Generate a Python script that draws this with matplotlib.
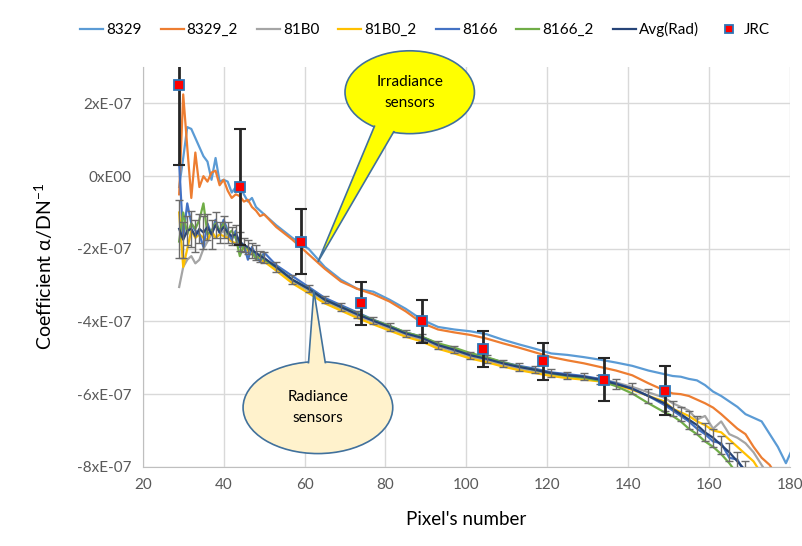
import numpy as np
import matplotlib
matplotlib.use("Agg")
import matplotlib.pyplot as plt
from matplotlib.patches import Ellipse, Polygon
from matplotlib.lines import Line2D
from matplotlib.ticker import FuncFormatter

plt.rcParams['font.family'] = ['Lato', 'DejaVu Sans']
plt.rcParams['mathtext.fontset'] = 'custom'
plt.rcParams['mathtext.rm'] = 'Lato'
plt.rcParams['mathtext.it'] = 'Lato:italic'

nan = np.nan

# pixel numbers (dense at the noisy start, coarser where the curves are smooth)
pixels = list(range(29, 51)) + list(range(53, 150, 4)) + list(range(151, 182, 2))

# coefficients in units of 1E-07
s8329 = [-0.3, 0.5, 1.35, 1.3, 1.05, 0.8, 0.55, 0.4, -0.1, 0.5, -0.15, -0.1, -0.15, -0.45, -0.3,
         -0.25, -0.5, -0.7, -0.6, -0.85, -0.95, -1.05,
         -1.35, -1.7, -2.0, -2.5, -2.85, -3.1, -3.18, -3.4, -3.65, -3.95, -4.15, -4.22, -4.27,
         -4.35, -4.5, -4.63, -4.75, -4.88, -4.92, -4.98, -5.05, -5.13, -5.22, -5.35, -5.45,
         -5.5, -5.52, -5.58, -5.62, -5.75, -5.93, -6.05, -6.2, -6.35, -6.55, -6.65, -6.75,
         -7.1, -7.45, -7.9, -7.4]
s8329_2 = [-0.5, 2.25, 0.8, -0.6, 0.65, -0.3, 0.0, -0.15, 0.1, 0.15, -0.25, -0.1, -0.4, -0.6, -0.5,
           -0.55, -0.7, -0.65, -0.85, -0.95, -1.1, -1.05,
           -1.4, -1.75, -2.15, -2.55, -2.9, -3.1, -3.25, -3.45, -3.72, -4.04, -4.22, -4.3, -4.37,
           -4.47, -4.6, -4.72, -4.85, -4.98, -5.07, -5.15, -5.25, -5.35, -5.48, -5.7, -5.9,
           -5.98, -6.0, -6.05, -6.15, -6.25, -6.37, -6.55, -6.75, -6.95, -7.1, -7.45, -7.75,
           -7.95, -8.3, nan, nan]
s81b0 = [-3.05, -2.5, -2.3, -2.2, -2.4, -2.3, -2.0, -1.8, -1.6, -1.7, -1.6, -1.5, -1.7, -1.65, -1.7,
         -1.85, -1.95, -2.0, -2.1, -2.15, -2.25, -2.3,
         -2.55, -2.9, -3.15, -3.45, -3.65, -3.85, -4.02, -4.2, -4.38, -4.5, -4.7, -4.83, -4.98,
         -5.08, -5.2, -5.3, -5.38, -5.46, -5.5, -5.53, -5.58, -5.68, -5.8, -5.95, -6.1,
         -6.25, -6.35, -6.45, -6.7, -6.6, -6.95, -6.75, -7.1, -7.2, -7.35, -7.6, -7.95,
         -8.3, nan, nan, nan]
s81b0_2 = [-1.0, -2.5, -2.0, -1.5, -1.7, -1.6, -1.7, -1.75, -1.5, -1.7, -1.6, -1.65, -1.7, -1.8, -1.85,
           -1.9, -2.0, -2.05, -2.15, -2.2, -2.3, -2.35,
           -2.6, -2.95, -3.22, -3.5, -3.7, -3.9, -4.08, -4.25, -4.42, -4.55, -4.75, -4.88, -5.02,
           -5.12, -5.24, -5.34, -5.42, -5.5, -5.56, -5.6, -5.65, -5.75, -5.88, -6.05, -6.2,
           -6.4, -6.5, -6.6, -6.75, -6.85, -7.0, -7.05, -7.25, -7.45, -7.65, -7.85, -8.2,
           nan, nan, nan, nan]
s8166 = [0.35, -1.7, -0.75, -1.3, -1.5, -1.6, -1.95, -1.3, -1.6, -1.2, -1.55, -1.2, -1.5, -1.75, -1.5,
         -1.95, -1.9, -2.3, -1.95, -2.2, -2.35, -2.1,
         -2.45, -2.75, -3.05, -3.35, -3.55, -3.75, -3.95, -4.12, -4.3, -4.42, -4.62, -4.75, -4.9,
         -5.0, -5.12, -5.22, -5.3, -5.4, -5.45, -5.5, -5.58, -5.7, -5.85, -6.05, -6.3,
         -6.45, -6.6, -6.75, -6.95, -7.1, -7.3, -7.35, -7.75, -7.8, -8.2, nan, nan,
         nan, nan, nan, nan]
s8166_2 = [-1.8, -1.0, -1.6, -1.3, -1.45, -1.2, -0.75, -1.6, -1.5, -1.3, -1.5, -1.3, -1.6, -1.5, -1.7,
           -2.2, -1.9, -2.0, -2.05, -2.3, -2.15, -2.3,
           -2.5, -2.85, -3.1, -3.4, -3.6, -3.78, -3.96, -4.12, -4.3, -4.42, -4.6, -4.72, -4.87,
           -4.98, -5.12, -5.24, -5.33, -5.43, -5.5, -5.55, -5.63, -5.78, -5.98, -6.25, -6.5,
           -6.6, -6.75, -6.95, -7.1, -7.3, -7.45, -7.65, -7.9, -8.2, nan, nan, nan,
           nan, nan, nan, nan]
avg_rad = [-1.45, -1.75, -1.5, -1.45, -1.65, -1.45, -1.55, -1.4, -1.6, -1.35, -1.55, -1.4, -1.55, -1.65, -1.6,
           -1.8, -1.9, -1.95, -2.05, -2.1, -2.2, -2.25,
           -2.5, -2.85, -3.1, -3.4, -3.6, -3.8, -3.98, -4.15, -4.33, -4.45, -4.65, -4.78, -4.93,
           -5.03, -5.15, -5.25, -5.33, -5.42, -5.48, -5.52, -5.6, -5.72, -5.85, -6.05, -6.25,
           -6.4, -6.55, -6.7, -6.85, -7.05, -7.2, -7.4, -7.6, -7.85, -8.1, -8.4, nan,
           nan, nan, nan, nan]
avg_err = [0.8, 0.5, 0.4, 0.5, 0.45, 0.4, 0.45, 0.35, 0.4, 0.35, 0.3, 0.3, 0.3, 0.25, 0.25,
           0.25, 0.2, 0.2, 0.2, 0.2, 0.15, 0.15,
           0.15, 0.12, 0.1, 0.1, 0.1, 0.1, 0.1, 0.1, 0.1, 0.1, 0.1, 0.1, 0.1,
           0.1, 0.1, 0.1, 0.1, 0.1, 0.1, 0.1, 0.12, 0.15, 0.15, 0.2, 0.2,
           0.2, 0.2, 0.25, 0.25, 0.25, 0.25, 0.25, 0.25, 0.25, 0.25, 0.25, nan,
           nan, nan, nan, nan]

jrc_x = [29, 44, 59, 74, 89, 104, 119, 134, 149]
jrc_y = [2.5, -0.3, -1.8, -3.5, -4.0, -4.75, -5.1, -5.6, -5.9]
jrc_err = [2.2, 1.6, 0.9, 0.6, 0.6, 0.5, 0.5, 0.6, 0.68]

series = [("8329", s8329, "#5B9BD5"),
          ("8329_2", s8329_2, "#ED7D31"),
          ("81B0", s81b0, "#A5A5A5"),
          ("81B0_2", s81b0_2, "#FFC000"),
          ("8166", s8166, "#4472C4"),
          ("8166_2", s8166_2, "#70AD47"),
          ("Avg(Rad)", avg_rad, "#264478")]

fig = plt.figure(figsize=(8.02, 5.46), dpi=100)
ax = fig.add_axes([0.178, 0.145, 0.807, 0.732])

handles = []
for name, vals, col in series:
    ln, = ax.plot(pixels, vals, color=col, lw=1.6, label=name, zorder=3)
    handles.append(ln)

ax.errorbar(pixels, avg_rad, yerr=avg_err, fmt='none', ecolor='#6b6b6b', elinewidth=1,
            capsize=3, zorder=3.5)
ax.errorbar(jrc_x, jrc_y, yerr=jrc_err, fmt='none', ecolor='#262626', elinewidth=2,
            capsize=4, capthick=1.5, zorder=4)
ax.plot(jrc_x, jrc_y, ls='none', marker='s', ms=7, mfc='#FF0000', mec='#2E75B6', mew=1.3,
        zorder=5)
handles.append(Line2D([], [], ls='none', marker='s', ms=6, mfc='#FF0000', mec='#2E75B6',
                      mew=1.3, label='JRC'))

ax.set_xlim(20, 180)
ax.set_ylim(-8, 3)
ax.set_xticks(range(20, 181, 20))
ax.set_yticks(range(-8, 3, 2))
ax.yaxis.set_major_formatter(FuncFormatter(lambda v, p: "0xE00" if v == 0 else f"{v:.0f}xE-07"))
ax.grid(True, color='#D9D9D9', lw=1)
ax.set_axisbelow(True)
for s in ['top', 'right']:
    ax.spines[s].set_visible(False)
for s in ['left', 'bottom']:
    ax.spines[s].set_color('#BFBFBF')
ax.tick_params(length=0, labelsize=11, colors='#595959', pad=8)

ax.set_xlabel("Pixel's number", fontsize=13.5, labelpad=14)
ax.set_ylabel("Coefficient α/DN$^{-1}$", fontsize=14, labelpad=16)

# callouts
edge = '#41719C'
ax.add_patch(Ellipse((86, 2.31), 32, 2.28, fc='#FFFF00', ec=edge, lw=1.2, zorder=6,
                     clip_on=False))
ax.add_patch(Polygon([(78.5, 1.7), (83.5, 1.5), (63.3, -2.36)], closed=True, fc='#FFFF00',
                     ec=edge, lw=1.2, zorder=7, clip_on=False))
ax.add_patch(Ellipse((86, 2.31), 31.2, 2.2, fc='#FFFF00', ec='none', zorder=8, clip_on=False))
ax.text(86, 2.31, "Irradiance\nsensors", ha='center', va='center', fontsize=11,
        linespacing=1.6, zorder=9)

ax.add_patch(Ellipse((63.3, -6.37), 37, 2.53, fc='#FFF2CC', ec=edge, lw=1.2, zorder=6))
ax.add_patch(Polygon([(60.8, -5.4), (65.5, -5.4), (62.3, -3.16)], closed=True, fc='#FFF2CC',
                     ec=edge, lw=1.2, zorder=7))
ax.add_patch(Ellipse((63.3, -6.37), 36.2, 2.45, fc='#FFF2CC', ec='none', zorder=8))
ax.text(63.3, -6.37, "Radiance\nsensors", ha='center', va='center', fontsize=11,
        linespacing=1.6, zorder=9)

fig.legend(handles=handles, loc='upper center', bbox_to_anchor=(0.53, 0.985), ncol=8,
           frameon=False, fontsize=11, handlelength=1.5, columnspacing=1.25, handletextpad=0.2)

fig.savefig("out.png", dpi=100)
